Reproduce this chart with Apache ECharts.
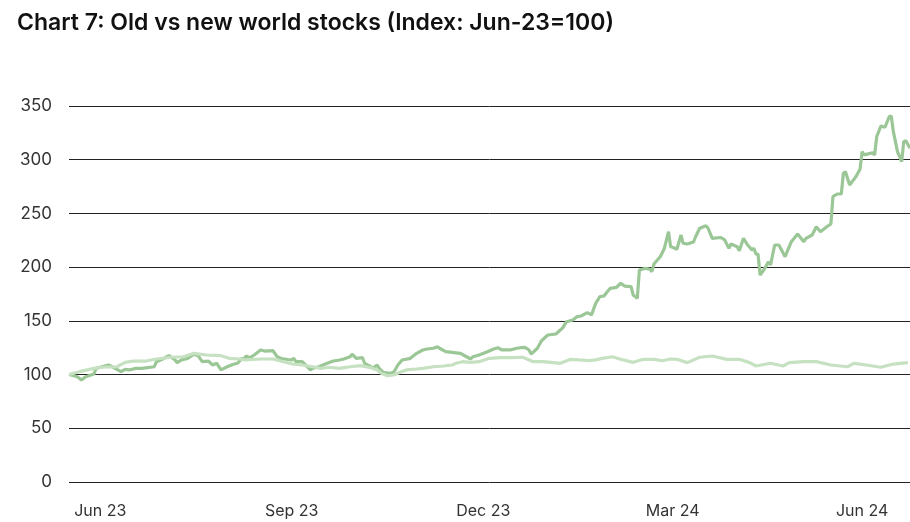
<!DOCTYPE html>
<html>
<head>
<meta charset="utf-8">
<script src="https://cdn.jsdelivr.net/npm/echarts@6/dist/echarts.min.js"></script>
<style>
  html, body { margin: 0; padding: 0; background: #fff; }
  #chart { width: 910px; height: 522px; }
</style>
</head>
<body>
<div id="chart"></div>
<script>
// Days counted from 15 Jun 2023; index rebased so Jun-23 = 100.
const newWorldDays = [0,4,6,8,12,13,19,21,25,27,29,32,35,41,42,45,48,51,52,54,57,60,62,64,67,69,71,73,76,79,81,83,84,85,87,89,92,94,98,100,102,105,107,108,109,112,116,117,120,124,127,130,132,135,136,138,141,142,145,146,148,149,151,154,156,158,160,164,167,170,172,175,177,178,181,184,188,191,193,194,197,201,204,206,208,212,215,217,219,221,222,225,227,230,234,236,237,239,242,244,246,249,251,253,255,257,258,260,263,265,267,270,271,273,274,277,279,280,281,284,285,286,288,289,290,292,294,295,297,300,301,303,306,307,309,313,315,317,318,321,322,324,326,327,328,329,330,331,332,334,336,337,339,341,344,347,350,353,354,357,359,361,364,366,367,369,371,372,373,375,378,380,381,382,383,386,387,388,390,392,394,395,396,398,400,401,402,404];
const newWorld = [100,98,95,98,100.5,105.8,108.9,107,102.7,104.9,104.3,105.8,105.8,107.3,112,114.5,117.6,113.6,111.1,113.6,115.1,118.9,117.6,112,112.6,108.9,110.5,104.3,107.3,109.6,110.5,115.1,113.6,117.3,115.7,118.2,122.9,121.9,122.2,116.6,115,114,113.6,115.1,112,112,104.3,105.8,107.3,110.5,112.6,113.6,114.5,116.6,118.9,115.1,115.7,110.5,107.3,105.8,108.9,105.8,102.1,101.2,102.1,108.9,113.6,115.1,119.8,122.9,123.8,124.5,125.9,124.5,121.3,120.7,119.8,116.6,114.5,116.6,118.2,121.3,123.8,125,122.9,122.9,124.5,125,125.4,122.9,119.1,124.5,131.5,136.8,137.8,141.5,143.1,149.2,150.8,153.9,154.5,157.6,155.5,166.3,172.5,173.1,175.7,180.3,181.2,185,182.4,181.8,174.1,171,197.3,198.9,198,195.8,202.9,209.7,213.4,217.5,233,219,218.5,216.6,229.9,222.2,221.5,223.4,228.3,236.2,238.6,236.2,226.8,227.6,225.3,217.5,221.5,219,215.3,226.8,220.6,218.5,216,217.5,212.2,212.2,192.7,198,205.1,202,220.6,220.6,209.7,223.7,230.9,223.7,226.8,229.9,237.6,233,237.6,240.2,265.6,268.1,268.1,287.4,288.8,276.5,284.2,291.1,307.5,304.4,305,306.5,304.4,321.4,331.4,330.2,340,340.7,326.1,307.5,298.2,316.8,317.7,310.6];

const oldWorldDays = [0,5,12,16,23,27,31,37,42,49,55,60,66,73,77,82,85,92,98,103,108,112,117,121,125,130,135,140,145,148,150,153,156,159,162,167,170,175,180,184,186,189,193,197,202,207,213,218,223,228,236,241,245,250,253,256,261,265,271,276,281,285,289,292,297,303,309,316,322,327,330,337,343,346,353,359,366,374,377,383,390,396,403];
const oldWorld = [100,102.7,105.8,106.8,107.3,111.4,112.6,112.6,114.5,116.1,116.6,119.8,118.2,117.6,115.1,114.5,113.6,114.5,114.5,112,109.6,108.9,107.3,105.8,106.8,105.8,107.3,108.3,106.4,104.3,101.2,98.9,99.6,102.1,104.3,105.2,105.8,107.3,108,108.9,110.5,112,111.4,112,115.1,115.7,115.7,116.1,112,112,110.5,114.2,113.6,112.9,113.6,115.1,116.6,114.2,111.4,114.2,114.2,112.9,114.5,114.2,111.1,116.1,117.3,114.2,114.2,111.1,108,110.5,108,111.1,112,112,108.9,107.3,110.5,108.9,106.8,109.8,111.1];

// Quarter-end tick positions (days from start) and their labels
const tickDays = [15, 107, 199, 290, 381];
const tickLabels = ['Jun 23', 'Sep 23', 'Dec 23', 'Mar 24', 'Jun 24'];

const pair = (days, vals) => days.map((d, i) => [d, vals[i]]);

const FONT = 'Inter, "Noto Sans", sans-serif';
const chart = echarts.init(document.getElementById('chart'), null, { renderer: 'canvas' });

chart.setOption({
  animation: false,
  backgroundColor: '#ffffff',
  title: {
    text: 'Chart 7: Old vs new world stocks (Index: Jun-23=100)',
    left: 12,
    top: 7,
    textStyle: { fontFamily: FONT, fontSize: 23, fontWeight: 600, color: '#111111' }
  },
  grid: { left: 69, right: 0, top: 106, bottom: 40, containLabel: false },
  xAxis: {
    type: 'value',
    min: 0,
    max: 404,
    axisLine: { show: false },
    axisTick: { show: false },
    splitLine: { show: false },
    axisLabel: {
      customValues: tickDays,
      formatter: v => tickLabels[tickDays.indexOf(v)] || '',
      margin: 21,
      fontFamily: FONT,
      fontSize: 16,
      color: '#333333'
    }
  },
  yAxis: {
    type: 'value',
    min: 0,
    max: 350,
    interval: 50,
    axisLine: { show: false },
    axisTick: { show: false },
    axisLabel: { margin: 17, fontFamily: FONT, fontSize: 17, color: '#333333' },
    splitLine: { lineStyle: { color: '#222222', width: 1 } }
  },
  series: [
    {
      name: 'New world',
      type: 'line',
      data: pair(newWorldDays, newWorld),
      showSymbol: false,
      lineStyle: { color: '#9bc797', width: 3.2 },
      z: 2
    },
    {
      name: 'Old world',
      type: 'line',
      data: pair(oldWorldDays, oldWorld),
      showSymbol: false,
      lineStyle: { color: '#c6e1c1', width: 3.2 },
      z: 3
    }
  ]
});
</script>
</body>
</html>
